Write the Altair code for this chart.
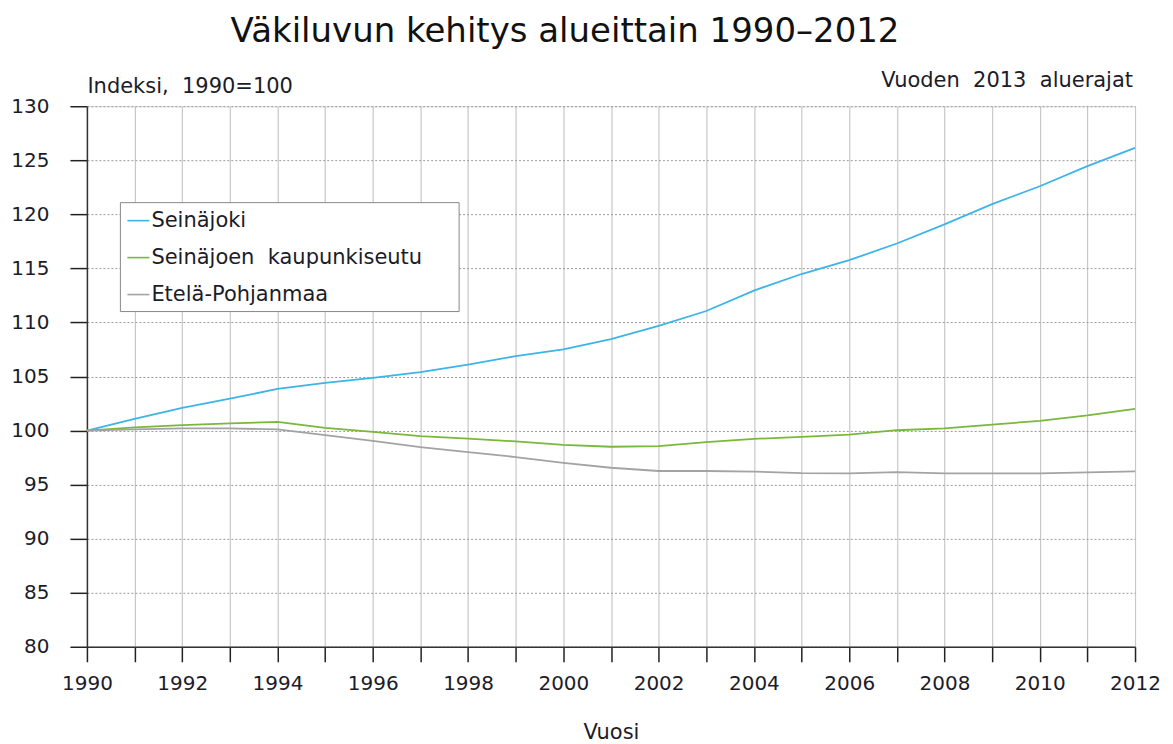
import altair as alt
import pandas as pd

years = list(range(1990, 2013))
seinajoki = [100.0, 101.07, 102.09, 102.95, 103.85, 104.42, 104.88, 105.4, 106.1, 106.88,
             107.5, 108.46, 109.68, 111.06, 112.95, 114.48, 115.76, 117.3, 119.07, 120.95,
             122.6, 124.46, 126.15]
kaupunkiseutu = [100.0, 100.3, 100.5, 100.67, 100.8, 100.25, 99.88, 99.48, 99.26, 99.0,
                 98.67, 98.5, 98.56, 98.93, 99.23, 99.42, 99.63, 100.03, 100.2, 100.55,
                 100.9, 101.4, 102.0]
etela_pohjanmaa = [100.0, 100.1, 100.2, 100.2, 100.1, 99.57, 99.05, 98.47, 98.0, 97.55,
                   97.02, 96.56, 96.26, 96.26, 96.2, 96.07, 96.04, 96.16, 96.04, 96.04,
                   96.04, 96.13, 96.23]

series_names = ["Seinäjoki", "Seinäjoen kaupunkiseutu", "Etelä-Pohjanmaa"]
series_colors = ["#3db4e8", "#79b83c", "#a3a3a3"]
y_ticks = list(range(80, 131, 5))

NB = "\u00a0"
title_text = "Väkiluvun kehitys alueittain 1990–2012"
y_title = "Indeksi," + NB + " 1990=100"
x_title = "Vuosi"
note_text = "Vuoden" + NB + " 2013" + NB + " aluerajat"

rows = []
for name, vals in zip(series_names, [seinajoki, kaupunkiseutu, etela_pohjanmaa]):
    for yr, v in zip(years, vals):
        rows.append({"Vuosi": yr, "Indeksi": v, "Alue": name})
df = pd.DataFrame(rows)

FONT = "DejaVu Sans"
TXT = "#1c1c28"
FS = 20
FT = 21

lines = alt.Chart(df).mark_line(strokeWidth=1.8).encode(
    x=alt.X("Vuosi:Q",
            scale=alt.Scale(domain=[1990, 2012], nice=False, zero=False),
            axis=alt.Axis(values=years, format="d",
                          labelExpr="datum.value % 2 == 0 ? datum.label : ''",
                          title=x_title, titlePadding=28, titleFontSize=FT,
                          titleFont=FONT, titleFontWeight="normal", titleColor=TXT,
                          tickSize=15, tickColor="#222", tickWidth=1.5,
                          domainColor="#333", domainWidth=1.5,
                          labelFontSize=FS, labelFont=FONT, labelColor=TXT,
                          labelPadding=12, labelFlush=False, labelOverlap=False,
                          grid=True, gridColor="#c8c8c8", gridWidth=1.2)),
    y=alt.Y("Indeksi:Q",
            scale=alt.Scale(domain=[80, 130], nice=False, zero=False),
            axis=alt.Axis(values=y_ticks, title=y_title, titleAngle=0,
                          titleX=0, titleY=-14, titleAlign="left",
                          titleBaseline="alphabetic",
                          titleFontSize=FT, titleFont=FONT, titleFontWeight="normal",
                          titleColor=TXT,
                          tickSize=17, tickColor="#222", tickWidth=1.5,
                          domainColor="#333", domainWidth=1.5,
                          labelFontSize=FS, labelFont=FONT, labelColor=TXT,
                          labelPadding=21, labelFlush=False,
                          grid=True, gridColor="#999999", gridDash=[2, 2], gridWidth=1)),
    color=alt.Color("Alue:N",
                    scale=alt.Scale(domain=series_names, range=series_colors),
                    legend=alt.Legend(orient="none", legendX=33, legendY=96,
                                      title=".", titleOrient="right", titleColor="white",
                                      titleFontSize=8, titlePadding=27,
                                      symbolType="stroke", symbolSize=484,
                                      symbolStrokeWidth=1.6,
                                      labelFontSize=FT, labelFont=FONT, labelColor=TXT,
                                      labelExpr="replace(datum.label, ' ', ' \u00a0')",
                                      labelOffset=1, rowPadding=15,
                                      strokeColor="#888", fillColor="white",
                                      padding=6.5, cornerRadius=0,
                                      labelLimit=500)),
)

note = alt.Chart(pd.DataFrame({"t": [note_text]})).mark_text(
    align="right", baseline="alphabetic", fontSize=FT, font=FONT, color=TXT
).encode(text="t:N", x=alt.value(1047), y=alt.value(-19))

chart = alt.layer(lines, note).properties(
    width=1049, height=541,
    title=alt.TitleParams(title_text, font=FONT, fontSize=34, fontWeight="normal",
                          color="#111", anchor="middle", dx=-46, offset=21),
    autosize=alt.AutoSizeParams(type="none"),
    padding={"left": 79, "top": 98, "right": 30, "bottom": 97},
).configure_view(stroke="#3a3a3a", strokeWidth=1.5).configure(background="white")

chart.save("out.html", embed_options={"renderer": "svg", "actions": False})
